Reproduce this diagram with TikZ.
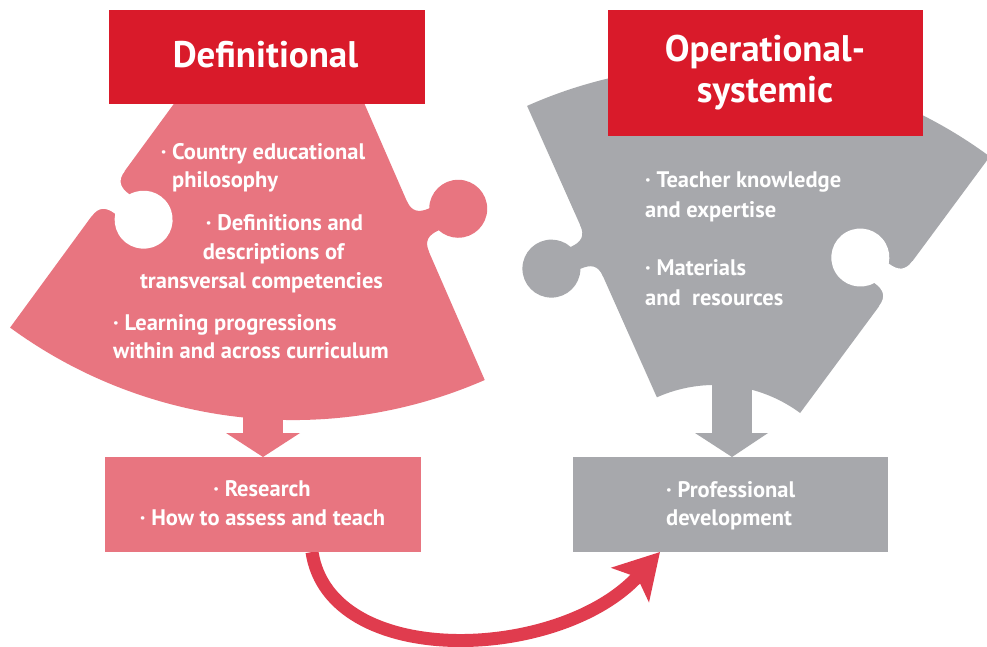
\documentclass[tikz,border=0pt]{standalone}
\usepackage{fontspec}
\setmainfont{PT Sans}
\usetikzlibrary{arrows.meta}
\definecolor{boxred}{HTML}{D91A2A}
\definecolor{pinkc}{HTML}{E87580}
\definecolor{grayc}{HTML}{A7A8AC}
\definecolor{arrowred}{HTML}{E03C4E}
\newcommand{\knobshape}{(-28,-4) -- (-28,0) .. controls (-16,0) and (-12,6) .. (-12,17.6) arc[start angle=245.6,end angle=-65.6,radius=29pt] .. controls (12,6) and (16,0) .. (28,0) -- (28,-4) -- cycle}
\tikzset{
  titletext/.style={text=white, font=\fontsize{37}{43}\selectfont\bfseries, inner sep=0pt},
  bodytext/.style={text=white, font=\fontsize{22.5}{28}\selectfont\bfseries, inner sep=0pt},
  blockbox/.style={inner sep=0pt, outer sep=0pt, draw=none},
}
\begin{document}
\begin{tikzpicture}[x=1pt,y=1pt]
\useasboundingbox (0,0) rectangle (987,-647);
\fill[white] (0,0) rectangle (987,-647);

% curved arrow (drawn first, boxes on top)
\coordinate (arrstart) at (312,-552);
\coordinate (arrend) at (660,-552);
\draw[arrowred, line width=13pt, -{Stealth[length=44pt,width=50pt,inset=10pt]}]
  (arrstart) .. controls (330,-670) and (560,-662) .. (arrend);

% pink puzzle piece
\fill[pinkc] (176.7,-100) -- (10.1,-327.6) arc[start angle=-126.2, end angle=-66.4, radius=479pt] -- (362.8,-100) -- cycle;
\begin{scope}[shift={(417.9,-226.4)}, rotate=-66.4]
  \fill[pinkc] \knobshape;
\end{scope}
\begin{scope}[shift={(108.1,-193.7)}, rotate=-126.2]
  \fill[white] \knobshape;
\end{scope}

% gray puzzle piece
\fill[grayc] (527.1,-105.9) arc[start angle=114, end angle=53.5, radius=462pt] -- (800.1,-413) arc[start angle=53.5, end angle=114, radius=143pt] -- cycle;
\begin{scope}[shift={(591.6,-250.7)}, rotate=114]
  \fill[grayc] \knobshape;
\end{scope}
\begin{scope}[shift={(895.7,-283.7)}, rotate=53.5]
  \fill[white] \knobshape;
\end{scope}

% boxes
\node[blockbox, fill=boxred, minimum width=316pt, minimum height=94pt] (defbox) at (267,-57) {};
\node[blockbox, fill=boxred, minimum width=315pt, minimum height=126pt] (opbox) at (765.5,-73) {};
\node[blockbox, fill=pinkc, minimum width=316pt, minimum height=95pt] (pbox) at (263,-504.5) {};
\node[blockbox, fill=grayc, minimum width=315pt, minimum height=95pt] (gbox) at (730.5,-504.5) {};

% block arrows
\fill[pinkc] (243,-405) rectangle (283,-433.5);
\fill[pinkc] (226,-433) -- (300,-433) -- (pbox.north) -- cycle;
\fill[grayc] (712,-380) rectangle (752,-433.5);
\fill[grayc] (695,-433) -- (768,-433) -- ([xshift=1.5pt]gbox.north) -- cycle;

% titles
\node[titletext, anchor=base] (t1) at (265.5,-68) {Definitional};
\node[titletext, anchor=base] (t2) at (765,-62) {Operational-};
\node[titletext, anchor=base] (t3) at (765,-103) {systemic};

% pink piece text
\node[bodytext, anchor=base west] (p1) at (172,-160) {\llap{·\ }Country educational};
\node[bodytext, anchor=base west] (p2) at (172,-188) {philosophy};
\node[bodytext, anchor=base] (p3) at (284.5,-230) {· Definitions and};
\node[bodytext, anchor=base] (p4) at (273.5,-259) {descriptions of};
\node[bodytext, anchor=base] (p5) at (261.5,-288) {transversal competencies};
\node[bodytext, anchor=base west] (p6) at (113,-330) {· Learning progressions};
\node[bodytext, anchor=base west] (p7) at (113,-358) {within and across curriculum};

% gray piece text
\node[bodytext, anchor=base west] (g1) at (645,-188) {· Teacher knowledge};
\node[bodytext, anchor=base west] (g2) at (645,-217) {and expertise};
\node[bodytext, anchor=base west] (g3) at (645,-275) {· Materials};
\node[bodytext, anchor=base west] (g4) at (645,-305) {and~~resources};

% box texts
\node[bodytext, anchor=base] (b1) at (262,-496) {· Research};
\node[bodytext, anchor=base] (b2) at (262.5,-525) {· How to assess and teach};
\node[bodytext, anchor=base west] (b3) at (666,-497) {· Professional};
\node[bodytext, anchor=base west] (b4) at (666,-525) {development};
\end{tikzpicture}
\end{document}
